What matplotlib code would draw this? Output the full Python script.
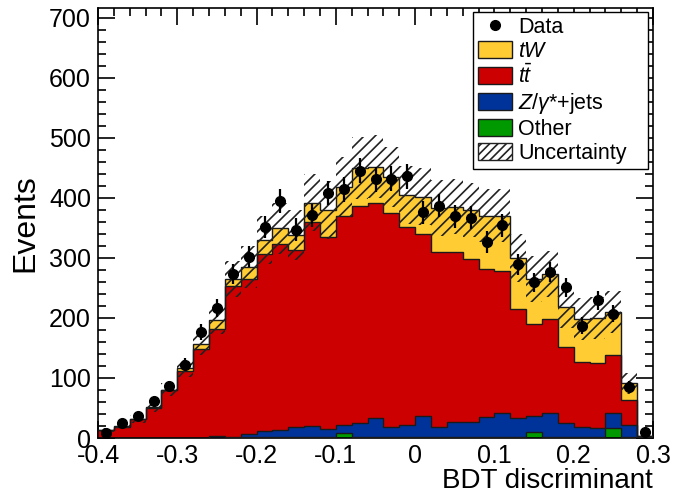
import numpy as np
import matplotlib
matplotlib.use("Agg")
import matplotlib.pyplot as plt
from matplotlib.patches import Patch
from matplotlib.lines import Line2D
from matplotlib.ticker import MultipleLocator, FixedLocator

plt.rcParams["font.family"] = ["Liberation Sans", "DejaVu Sans"]
plt.rcParams["mathtext.fontset"] = "custom"
plt.rcParams["mathtext.rm"] = "Liberation Sans"
plt.rcParams["mathtext.it"] = "Liberation Sans:italic"
plt.rcParams["axes.unicode_minus"] = False
plt.rcParams["hatch.linewidth"] = 1.2

# Binning of the BDT discriminant
x_min, x_max, n_bins = -0.4, 0.3, 35

# Stacked predictions per bin (events)
other = [0, 0, 0, 0, 0, 0, 0, 0.5, 0.5, 1, 1.5, 1.5, 2, 2, 2, 8, 2, 2, 2, 2,
         2, 2, 2, 2, 2, 2, 2, 10, 2, 2, 2, 2, 17, 2, 0.5]
zjets = [0, 0, 0, 0, 0, 0, 0, 3.5, 1.5, 6, 9.5, 11.5, 16, 18, 13, 14, 23, 31, 17, 20,
         34, 17, 25, 24, 33, 39, 31, 27, 39, 23, 17, 15, 24, 20, 0.5]
ttbar = [13, 19, 31, 50, 80, 112, 148, 178, 251, 257, 296, 310, 295, 339, 320, 348,
         362, 359, 356, 330, 303, 290, 283, 272, 247, 237, 181, 152, 157, 126, 108,
         108, 98, 41, 2]
tw = [0, 1, 0.5, 1, 0.5, 4, 8, 15, 11, 21, 22, 26, 25, 33, 45, 48, 63, 60, 59, 53,
      63, 74, 75, 82, 88, 92, 86, 76, 75, 67, 71, 75, 71, 28, 1]

# Total systematic uncertainty on the prediction
uncertainty = [3, 4, 6, 8, 11, 14, 18, 24, 30, 35, 40, 42, 42, 48, 48, 50, 52, 52,
               50, 48, 48, 46, 46, 45, 44, 44, 40, 38, 38, 35, 35, 35, 35, 18, 2]

# Observed data
data = [8, 25, 37, 61, 86, 122, 176, 216, 273, 302, 351, 395, 347, 371, 408, 414,
        445, 431, 432, 436, 376, 387, 369, 367, 326, 354, 289, 259, 276, 251, 187,
        229, 207, 85, 10]

labels = ["Data", "$tW$", r"$t\bar{t}$", r"$Z/\gamma$*+jets", "Other", "Uncertainty"]
colors = {"tw": "#FFCC33", "ttbar": "#CC0000", "zjets": "#003399", "other": "#009900"}

edges = np.linspace(x_min, x_max, n_bins + 1)
centers = 0.5 * (edges[:-1] + edges[1:])

fig = plt.figure(figsize=(6.73, 4.94), dpi=100)
ax = fig.add_axes([98 / 673, 56 / 494, 555 / 673, 430 / 494])

layers = [("other", other), ("zjets", zjets), ("ttbar", ttbar), ("tw", tw)]
bottom = np.zeros(n_bins)
for key, vals in layers:
    top = bottom + np.asarray(vals, float)
    ax.stairs(top, edges, baseline=bottom, fill=True, color=colors[key], lw=0, zorder=2)
    bottom = top
# outlines of each stacked layer
bottom = np.zeros(n_bins)
for key, vals in layers:
    top = bottom + np.asarray(vals, float)
    ax.stairs(top, edges, baseline=None, fill=False, color="#1a1a1a", lw=1.0, zorder=3)
    bottom = top
total = bottom

unc = np.asarray(uncertainty, float)
ax.stairs(total + unc, edges, baseline=np.clip(total - unc, 0, None), fill=True,
          facecolor="none", edgecolor="#222222", hatch="///", lw=0, zorder=4)

d = np.asarray(data, float)
ax.errorbar(centers, d, yerr=np.sqrt(d), fmt="o", color="black", ms=7, elinewidth=1.6,
            capsize=0, zorder=5)

ax.set_xlim(x_min, x_max)
ax.set_ylim(0, 716)
ax.xaxis.set_major_locator(FixedLocator([-0.4, -0.3, -0.2, -0.1, 0.0, 0.1, 0.2, 0.3]))
ax.set_xticklabels(["-0.4", "-0.3", "-0.2", "-0.1", "0", "0.1", "0.2", "0.3"])
ax.xaxis.set_minor_locator(MultipleLocator(0.02))
ax.yaxis.set_major_locator(MultipleLocator(100))
ax.yaxis.set_minor_locator(MultipleLocator(20))
ax.tick_params(which="both", direction="in", top=True, right=True, labelsize=18, width=1.2)
ax.tick_params(which="major", length=12)
ax.tick_params(axis="x", which="major", pad=4)
ax.tick_params(axis="y", which="major", pad=5)
ax.tick_params(which="minor", length=6)
for sp in ax.spines.values():
    sp.set_linewidth(1.2)

ax.set_ylabel("Events", fontsize=23, loc="center", labelpad=6)
ax.set_xlabel("BDT discriminant", fontsize=20, loc="right", labelpad=0)

handles = [
    Line2D([], [], marker="o", ls="none", color="black", ms=7),
    Patch(facecolor=colors["tw"], edgecolor="#1a1a1a", lw=1),
    Patch(facecolor=colors["ttbar"], edgecolor="#1a1a1a", lw=1),
    Patch(facecolor=colors["zjets"], edgecolor="#1a1a1a", lw=1),
    Patch(facecolor=colors["other"], edgecolor="#1a1a1a", lw=1),
    Patch(facecolor="white", edgecolor="#222222", hatch="////", lw=1),
]
leg = ax.legend(handles, labels, loc="upper left",
                bbox_to_anchor=(473 / 673, 326 / 494, 175 / 673, 156 / 494),
                bbox_transform=fig.transFigure, mode="expand",
                fontsize=15.5, frameon=True, fancybox=False,
                edgecolor="black", framealpha=1, borderpad=0.25, labelspacing=0.13,
                handlelength=1.55, handleheight=0.85, handletextpad=0.3, borderaxespad=0)
leg.get_frame().set_linewidth(1.0)

fig.savefig("out.png", dpi=100)
